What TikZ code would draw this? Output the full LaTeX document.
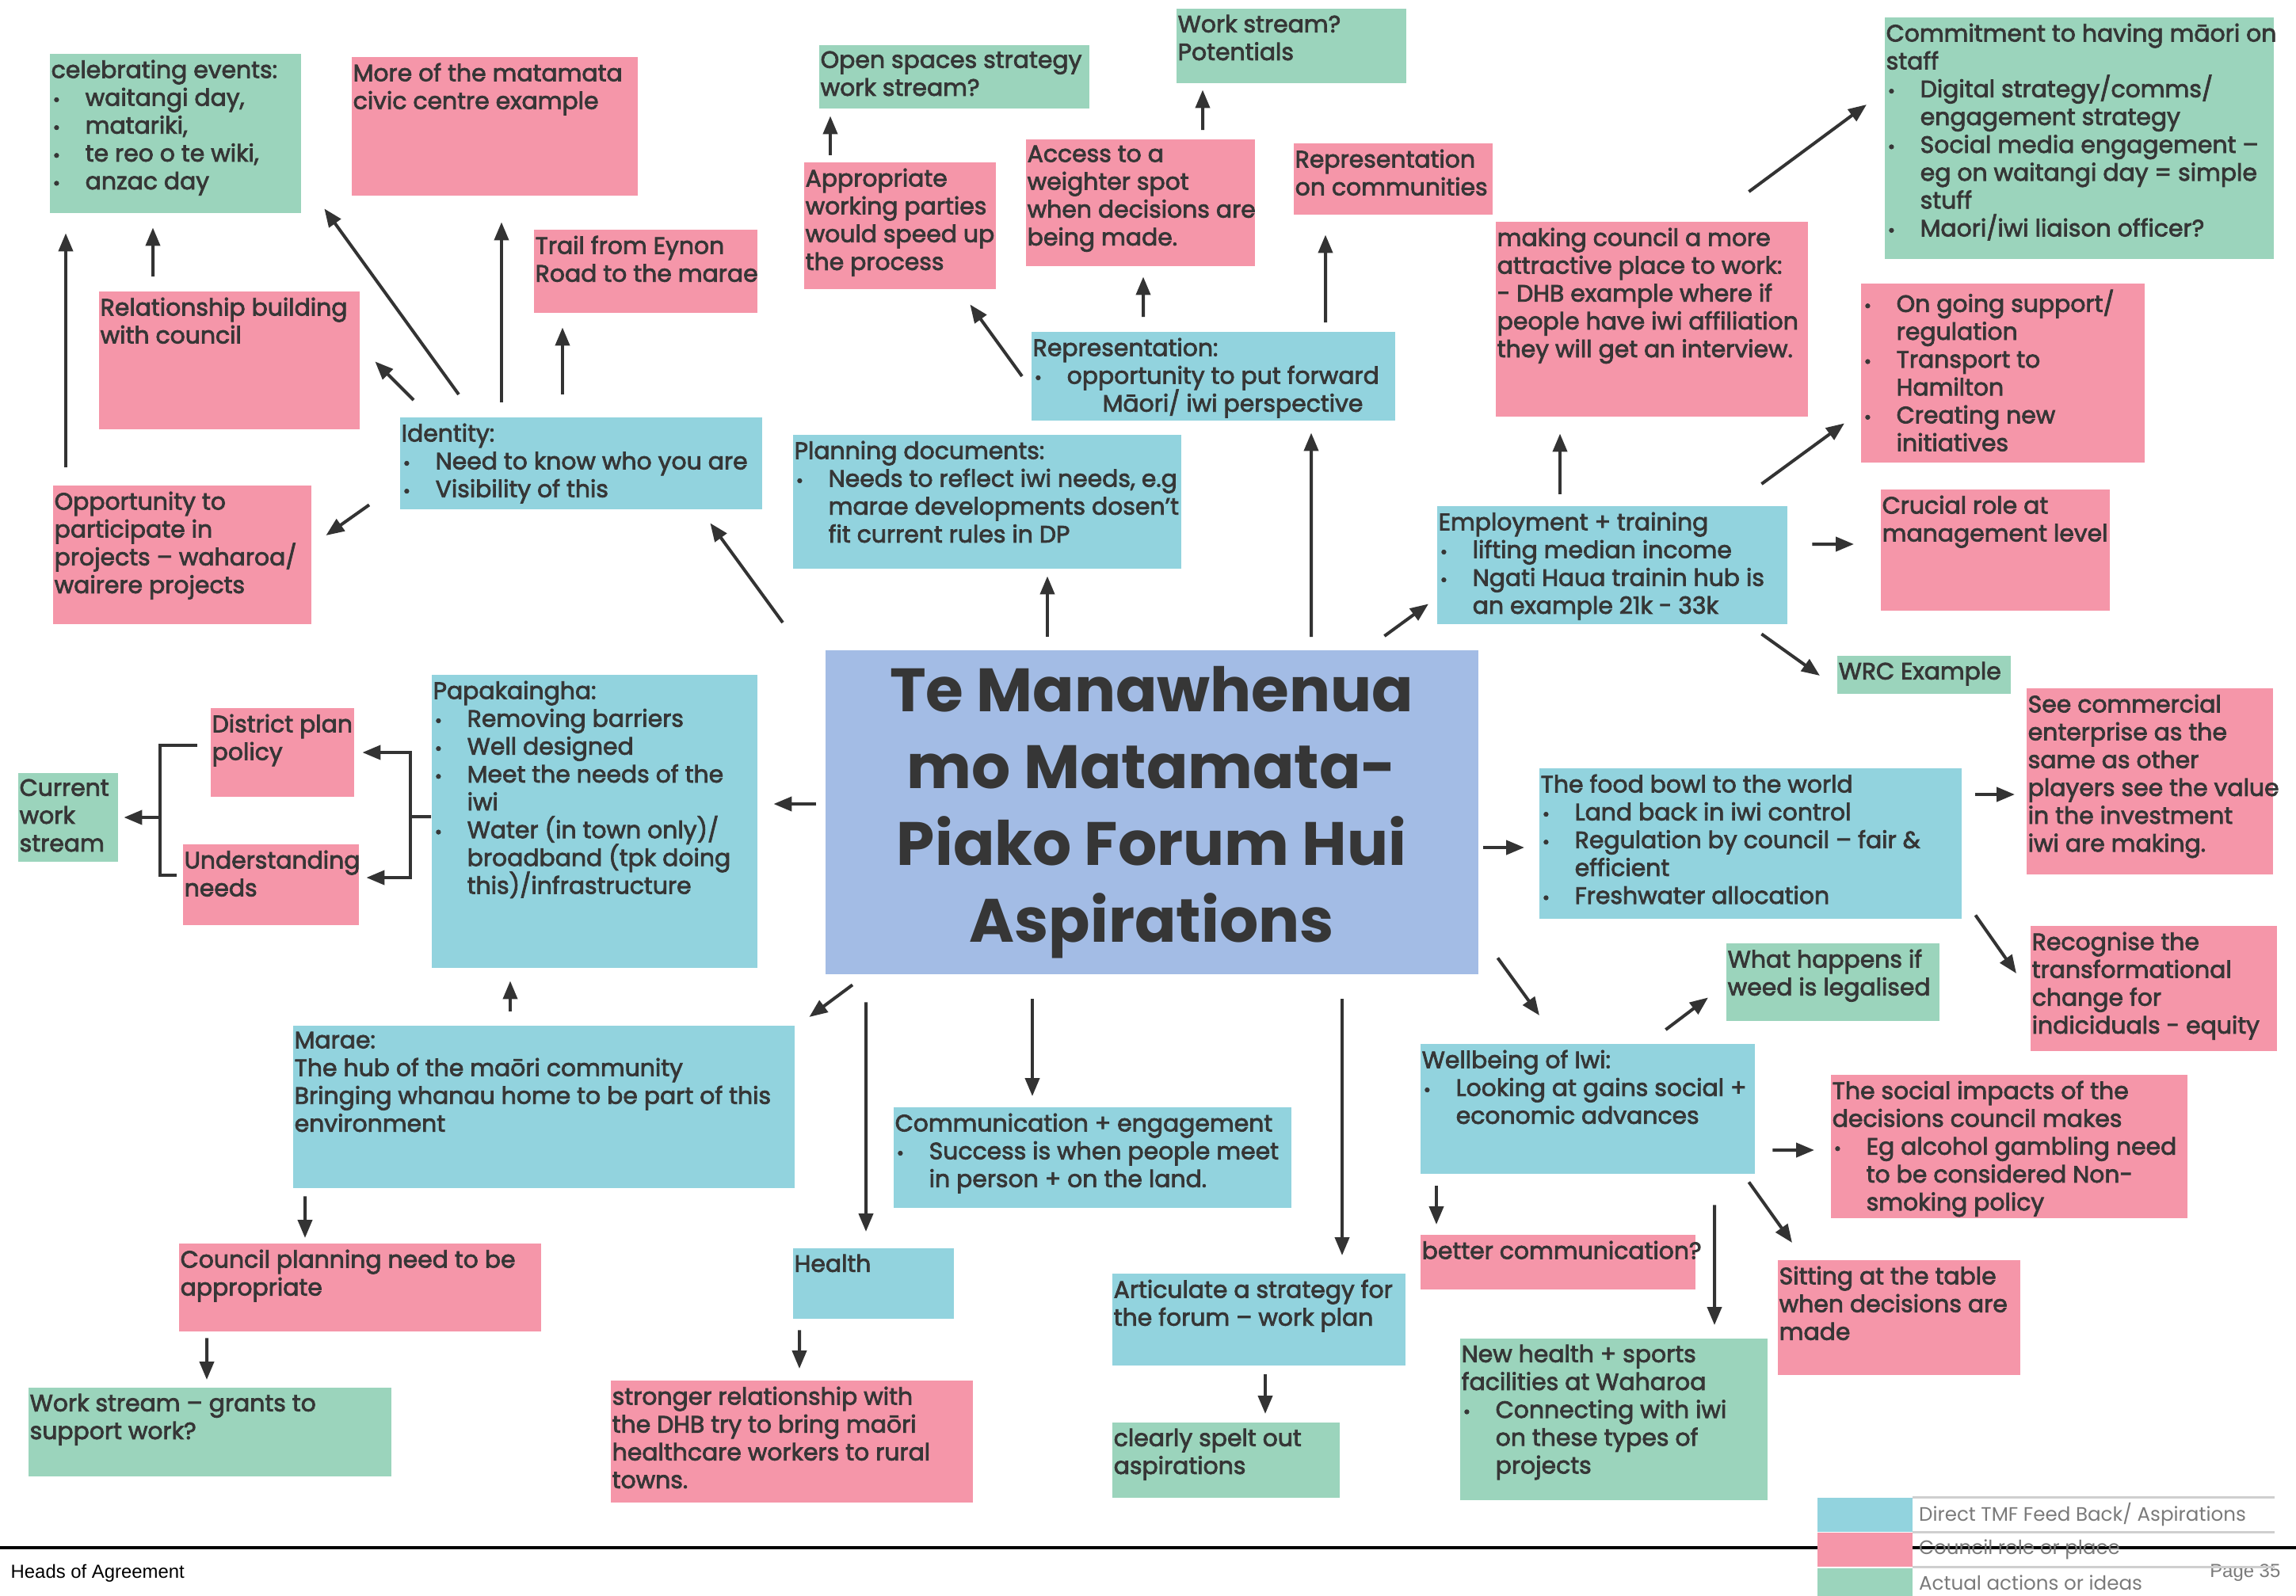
\documentclass[tikz,border=0pt]{standalone}
\usepackage{fontspec}
\newfontfamily\cardfont{Poppins}[FakeBold=2.6]
\newfontfamily\titlefont{Poppins}
\newfontfamily\footfont{Liberation Sans}
\usetikzlibrary{arrows.meta,positioning,calc}

\definecolor{tmfblue}{HTML}{92D3DE}
\definecolor{councilpink}{HTML}{F596A9}
\definecolor{actiongreen}{HTML}{9BD4BC}
\definecolor{hubblue}{HTML}{A3BCE5}
\definecolor{ink}{HTML}{363636}
\definecolor{arrowgrey}{HTML}{333333}
\definecolor{legendgrey}{HTML}{7A7A7A}
\definecolor{keyline}{HTML}{CFCFCF}

% card text: fixed line pitch, also for lines with tall glyphs
\newcommand\cardsize{\cardfont\fontsize{8.5pt}{10pt}\selectfont\lineskiplimit=-10pt\relax}
% line break inside a card
\newcommand\nl{\hfil\break}
% a bullet item, its text hangs right of the bullet
\newcommand\bul[1]{\par\noindent\makebox[0.43cm][l]{\kern0.02cm{\fontsize{6.5pt}{6.5pt}\selectfont\textbullet}}%
  \parbox[t]{\dimexpr\linewidth-0.43cm\relax}{\cardsize\raggedright #1\strut}\par\prevdepth=\dp\strutbox}

\begin{document}
\begin{tikzpicture}
      [x=1cm, y=1cm, font=\cardsize,
      % STYLES
      % The card style is a box of fixed size with its text in the top left corner
      card/.style 2 args={rectangle, anchor=north west, inner xsep=0.02cm, inner ysep=0.08cm,
        minimum width=#1cm, minimum height=#2cm, text=ink,
        execute at begin node={\hbox to \dimexpr#1cm-0.04cm\relax\bgroup\begin{minipage}[t][\dimexpr#2cm-0.16cm\relax][t]{\dimexpr#1cm+0.56cm\relax}\cardsize\raggedright},
        execute at end node={\end{minipage}\hss\egroup}},
      % Direct TMF feed back / aspirations
      tmf/.style={fill=tmfblue},
      % Council role or place
      council/.style={fill=councilpink},
      % Actual actions or ideas
      action/.style={fill=actiongreen},
      % The hub style is used for the title in the middle
      hub/.style={rectangle, fill=hubblue, anchor=north west, minimum width=8.24cm, minimum height=4.09cm,
        align=center, text=ink, font=\titlefont\bfseries\fontsize{22pt}{27.6pt}\selectfont},
      arr/.style={draw=arrowgrey, line width=0.04cm, -{Triangle[length=0.23cm,width=0.18cm]}},
      bracket/.style={draw=arrowgrey, line width=0.04cm},
      keyswatch/.style={rectangle, anchor=north west, inner sep=0pt, minimum width=1.20cm},
      keytext/.style={anchor=west, inner sep=0pt, text=legendgrey, font=\titlefont\fontsize{7pt}{8pt}\selectfont},
      footer/.style={inner sep=0pt, font=\footfont\fontsize{6.8pt}{8pt}\selectfont}]

      \useasboundingbox (0,0) rectangle (28.98,-20.14);

      % Draw the title
      \node [hub] (center) at (10.41,-8.20) {Te Manawhenua\\mo Matamata-\\Piako Forum Hui\\Aspirations};

      %%%%%%%%%%%%%%%
      % Left side
      \node [action, card={3.17}{2.01}] (celeb) at (0.62,-0.67) {celebrating events:\bul{waitangi day,}\bul{matariki,}\bul{te reo o te wiki,}\bul{anzac day}};
      \node [council, card={3.61}{1.75}] (moreof) at (4.43,-0.71) {More of the matamata\nl civic centre example};
      \node [council, card={2.82}{1.05}] (trail) at (6.73,-2.89) {Trail from Eynon\nl Road to the marae};
      \node [council, card={3.29}{1.74}] (relation) at (1.24,-3.67) {Relationship building\nl with council};
      \node [tmf, card={4.57}{1.16}] (identity) at (5.04,-5.26) {Identity:\bul{Need to know who you are}\bul{Visibility of this}};
      \node [council, card={3.26}{1.75}] (opport) at (0.66,-6.12) {Opportunity to\nl participate in\nl projects – waharoa/\nl wairere projects};
      \node [tmf, card={4.11}{3.70}] (papa) at (5.44,-8.51) {Papakaingha:\bul{Removing barriers}\bul{Well designed}\bul{Meet the needs of the\nl iwi}\bul{Water (in town only)/\nl broadband (tpk doing\nl this)/infrastructure}};
      \node [council, card={1.81}{1.12}] (district) at (2.65,-8.93) {District plan\nl policy};
      \node [council, card={2.22}{1.02}] (understanding) at (2.30,-10.65) {Understanding\nl needs};
      \node [action, card={1.26}{1.12}] (current) at (0.22,-9.75) {Current\nl work\nl stream};
      \node [tmf, card={6.33}{2.05}] (marae) at (3.69,-12.94) {Marae:\nl The hub of the maōri community\nl Bringing whanau home to be part of this\nl environment};
      \node [council, card={4.57}{1.11}] (councilplan) at (2.25,-15.69) {Council planning need to be\nl appropriate};
      \node [action, card={4.58}{1.12}] (grants) at (0.35,-17.51) {Work stream – grants to\nl support work?};

      %%%%%%%%%%%%%%%
      % Top
      \node [action, card={3.41}{0.80}] (openspaces) at (10.33,-0.56) {Open spaces strategy\nl work stream?};
      \node [action, card={2.90}{0.94}] (potentials) at (14.84,-0.10) {Work stream?\nl Potentials};
      \node [council, card={2.42}{1.60}] (parties) at (10.14,-2.04) {Appropriate\nl working parties\nl would speed up\nl the process};
      \node [council, card={2.89}{1.60}] (access) at (12.94,-1.75) {Access to a\nl weighter spot\nl when decisions are\nl being made.};
      \node [council, card={2.51}{0.90}] (reprcomm) at (16.32,-1.80) {Representation\nl on communities};
      \node [tmf, card={4.59}{1.12}] (repr) at (13.01,-4.18) {Representation:\bul{opportunity to put forward\nl\hspace*{0.45cm}Māori/ iwi perspective}};
      \node [tmf, card={4.90}{1.69}] (planning) at (10.00,-5.48) {Planning documents:\bul{Needs to reflect iwi needs, e.g\nl marae developments dosen’t\nl fit current rules in DP}};

      %%%%%%%%%%%%%%%
      % Right side
      \node [council, card={3.94}{2.46}] (attractive) at (18.87,-2.79) {making council a more\nl attractive place to work:\nl - DHB example where if\nl people have iwi affiliation\nl they will get an interview.};
      \node [action, card={4.91}{3.05}] (commit) at (23.78,-0.21) {Commitment to having māori on\nl staff\bul{Digital strategy/comms/\nl engagement strategy}\bul{Social media engagement –\nl eg on waitangi day = simple\nl stuff}\bul{Maori/iwi liaison officer?}};
      \node [council, card={3.58}{2.26}] (support) at (23.48,-3.57) {\bul{On going support/\nl regulation}\bul{Transport to\nl Hamilton}\bul{Creating new\nl initiatives}};
      \node [council, card={2.89}{1.53}] (crucial) at (23.73,-6.17) {Crucial role at\nl management level};
      \node [tmf, card={4.42}{1.49}] (employ) at (18.13,-6.38) {Employment + training\bul{lifting median income}\bul{Ngati Haua trainin hub is\nl an example 21k - 33k}};
      \node [action, card={2.19}{0.48}] (wrc) at (23.18,-8.27) {WRC Example};
      \node [council, card={3.11}{2.35}] (commercial) at (25.57,-8.68) {See commercial\nl enterprise as the\nl same as other\nl players see the value\nl in the investment\nl iwi are making.};
      \node [tmf, card={5.33}{1.90}] (foodbowl) at (19.42,-9.69) {The food bowl to the world\bul{Land back in iwi control}\bul{Regulation by council – fair \&\nl efficient}\bul{Freshwater allocation}};
      \node [council, card={3.11}{1.58}] (recognise) at (25.62,-11.68) {Recognise the\nl transformational\nl change for\nl indiciduals - equity};
      \node [action, card={2.69}{0.98}] (weed) at (21.78,-11.90) {What happens if\nl weed is legalised};
      \node [tmf, card={4.22}{1.64}] (wellbeing) at (17.92,-13.17) {Wellbeing of Iwi:\bul{Looking at gains social +\nl economic advances}};
      \node [council, card={4.50}{1.81}] (social) at (23.10,-13.56) {The social impacts of the\nl decisions council makes\bul{Eg alcohol gambling need\nl to be considered Non-\nl smoking policy}};
      \node [council, card={3.06}{1.45}] (sitting) at (22.43,-15.90) {Sitting at the table\nl when decisions are\nl made};
      \node [council, card={3.47}{0.69}] (bettercomm) at (17.92,-15.58) {better communication?};
      \node [action, card={3.88}{2.04}] (newhealth) at (18.42,-16.89) {New health + sports\nl facilities at Waharoa\bul{Connecting with iwi\nl on these types of\nl projects}};

      %%%%%%%%%%%%%%%
      % Bottom
      \node [tmf, card={5.02}{1.27}] (communication) at (11.27,-13.97) {Communication + engagement\bul{Success is when people meet\nl in person + on the land.}};
      \node [tmf, card={2.03}{0.89}] (health) at (10.00,-15.75) {Health};
      \node [council, card={4.57}{1.54}] (stronger) at (7.70,-17.42) {stronger relationship with\nl the DHB try to bring maōri\nl healthcare workers to rural\nl towns.};
      \node [tmf, card={3.70}{1.16}] (articulate) at (14.03,-16.07) {Articulate a strategy for\nl the forum – work plan};
      \node [action, card={2.87}{0.95}] (clearly) at (14.03,-17.95) {clearly spelt out\nl aspirations};

      %%%%%%%%%%%%%%%%
      % Draw the links between the boxes
      \path[every edge/.style={arr}]
        ([shift={(0.17,0.22)}]opport.north west) edge ([shift={(0.21,-0.25)}]celeb.south west)
        ([shift={(0.69,0.18)}]relation.north west) edge ([shift={(1.31,-0.18)}]celeb.south west)
        ([shift={(0.18,0.21)}]identity.north west) edge ([shift={(0.19,0.86)}]relation.south east)
        ([shift={(0.75,0.28)}]identity.north west) edge ([shift={(0.29,0.06)}]celeb.south east)
        ([shift={(1.29,0.18)}]identity.north west) edge ([shift={(1.90,-0.33)}]moreof.south west)
        ([shift={(2.06,0.28)}]identity.north west) edge ([shift={(0.37,-0.18)}]trail.south west)
        ([shift={(-0.38,0.06)}]identity.south west) edge ([shift={(0.18,-0.64)}]opport.north east)
        ([shift={(-0.53,0.34)}]center.north west) edge ([shift={(-0.66,-0.17)}]identity.south east)
        ([shift={(2.81,0.16)}]center.north west) edge ([shift={(3.22,-0.09)}]planning.south west)
        ([shift={(6.14,0.16)}]center.north west) edge ([shift={(3.54,-0.15)}]repr.south west)
        ([shift={(-0.11,-0.57)}]repr.north west) edge ([shift={(-0.33,-0.19)}]parties.south east)
        ([shift={(1.42,0.18)}]repr.north west) edge ([shift={(1.49,-0.13)}]access.south west)
        ([shift={(3.72,0.11)}]repr.north west) edge ([shift={(0.41,-0.25)}]reprcomm.south west)
        ([shift={(0.34,0.08)}]parties.north west) edge ([shift={(0.15,-0.09)}]openspaces.south west)
        ([shift={(2.24,0.11)}]access.north west) edge ([shift={(0.34,-0.08)}]potentials.south west)
        ([shift={(-1.19,0.17)}]center.north east) edge ([shift={(-0.10,0.26)}]employ.south west)
        ([shift={(1.56,0.14)}]employ.north west) edge ([shift={(0.82,-0.21)}]attractive.south west)
        ([shift={(-0.75,0.37)}]attractive.north east) edge ([shift={(-0.22,-1.11)}]commit.north west)
        ([shift={(-0.33,0.27)}]employ.north east) edge ([shift={(-0.20,0.50)}]support.south west)
        ([shift={(0.31,-0.49)}]employ.north east) edge ([shift={(-0.33,-0.70)}]crucial.north west)
        ([shift={(-0.33,-0.12)}]employ.south east) edge ([shift={(-0.21,-0.26)}]wrc.north west)
        ([shift={(0.06,-2.50)}]center.north east) edge ([shift={(-0.18,-1.01)}]foodbowl.north west)
        ([shift={(0.17,-0.34)}]foodbowl.north east) edge ([shift={(-0.14,-1.35)}]commercial.north west)
        ([shift={(0.17,0.05)}]foodbowl.south east) edge ([shift={(-0.17,-0.61)}]recognise.north west)
        ([shift={(0.24,0.21)}]center.south east) edge ([shift={(1.51,0.35)}]wellbeing.north west)
        ([shift={(-1.13,0.17)}]wellbeing.north east) edge ([shift={(-0.22,0.30)}]weed.south west)
        ([shift={(0.22,-1.35)}]wellbeing.north east) edge ([shift={(-0.20,-0.96)}]social.north west)
        ([shift={(-0.08,-0.10)}]wellbeing.south east) edge ([shift={(0.19,0.21)}]sitting.north west)
        ([shift={(0.21,-0.15)}]wellbeing.south west) edge ([shift={(0.21,0.12)}]bettercomm.north west)
        ([shift={(3.72,-0.39)}]wellbeing.south west) edge ([shift={(3.22,0.16)}]newhealth.north west)
        ([shift={(6.53,-0.31)}]center.south west) edge ([shift={(2.91,0.22)}]articulate.north west)
        ([shift={(1.94,-0.11)}]articulate.south west) edge ([shift={(1.94,0.10)}]clearly.north west)
        ([shift={(2.62,-0.31)}]center.south west) edge ([shift={(1.76,0.13)}]communication.north west)
        ([shift={(0.52,-0.35)}]center.south west) edge ([shift={(0.93,0.20)}]health.north west)
        ([shift={(0.09,-0.14)}]health.south west) edge ([shift={(2.39,0.14)}]stronger.north west)
        ([shift={(0.35,-0.13)}]center.south west) edge ([shift={(0.18,0.10)}]marae.north east)
        ([shift={(2.75,0.17)}]marae.north west) edge ([shift={(1.00,-0.16)}]papa.south west)
        ([shift={(0.16,-0.10)}]marae.south west) edge ([shift={(1.60,0.06)}]councilplan.north west)
        ([shift={(0.36,-0.08)}]councilplan.south west) edge ([shift={(2.26,0.09)}]grants.north west)
        ([shift={(-0.11,-1.95)}]center.north west) edge ([shift={(0.20,-1.64)}]papa.north east);

      % The two brackets left of Papakaingha
      \coordinate (papafork) at ([shift={(-0.26,-1.80)}]papa.north west);
      \coordinate (leftfork) at ([shift={(0.53,-0.57)}]current.north east);
      \draw[bracket] ([yshift=-1.80cm]papa.north west) -- (papafork);
      \draw[arr] (papafork) |- ([shift={(0.10,-0.57)}]district.north east);
      \draw[arr] (papafork) |- ([shift={(0.09,-0.43)}]understanding.north east);
      \draw[bracket] ([shift={(-0.16,-0.48)}]district.north west) -| (leftfork) |- ([shift={(-0.07,-0.40)}]understanding.north west);
      \draw[arr] (leftfork) -- ([shift={(0.07,-0.57)}]current.north east);

      %%%%%%%%%%%%%%%%
      % Footer and legend
      \coordinate (footleft) at (0,-19.54);
      \coordinate (footright) at (28.98,-19.54);
      \draw[line width=0.035cm] (footleft) -- (footright);
      \node [footer, anchor=west] (heads) at (0.13,-19.86) {Heads of Agreement};
      \node [footer, anchor=east, text=legendgrey] (page) at (28.79,-19.86) {Page 35};

      \node [keyswatch, fill=tmfblue, minimum height=0.43cm] (key-tmf) at (22.93,-18.90) {};
      \node [keyswatch, fill=councilpink, minimum height=0.43cm, below=0pt of key-tmf] (key-council) {};
      \node [keyswatch, fill=actiongreen, minimum height=0.38cm, below=0pt of key-council] (key-action) {};
      \draw[keyline, line width=0.03cm] (key-tmf.north east) -- ++(4.57,0);
      \draw[keyline, line width=0.03cm] (key-council.north east) -- ++(4.57,0);
      \draw[keyline, line width=0.03cm] (key-action.north east) -- ++(4.57,0);
      \node [keytext, right=0.07cm of key-tmf] (key-tmf-text) {Direct TMF Feed Back/ Aspirations};
      \node [keytext, right=0.07cm of key-council] (key-council-text) {Council role or place};
      \node [keytext, right=0.07cm of key-action] (key-action-text) {Actual actions or ideas};
\end{tikzpicture}
\end{document}
